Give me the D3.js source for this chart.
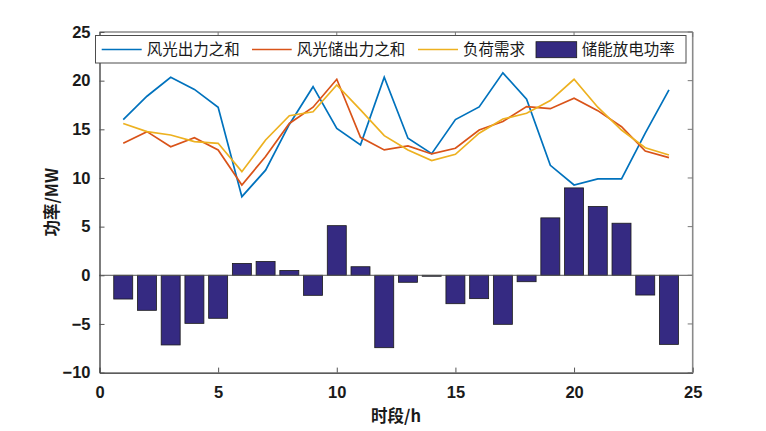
<!DOCTYPE html>
<html><head><meta charset="utf-8">
<script src="https://cdn.jsdelivr.net/npm/d3@7"></script>
<style>body{margin:0;background:#fff}svg{display:block}</style>
</head><body>
<script>
const hours = d3.range(1, 25);
const windSolar = [16.0,18.4,20.35,19.1,17.27,8.08,10.8,15.5,19.38,15.1,13.4,20.35,14.08,12.5,16.0,17.3,20.8,18.1,11.3,9.28,9.9,9.9,14.6,19.05];
const withStorage = [13.56,14.76,13.2,14.14,12.88,9.28,12.2,15.6,17.27,20.14,14.18,12.88,13.3,12.47,13.05,14.93,15.8,17.33,17.12,18.19,16.92,15.27,12.77,12.09];
const load = [15.6,14.76,14.42,13.73,13.56,10.65,13.9,16.4,16.8,19.56,17.0,14.35,12.88,11.78,12.43,14.6,16.06,16.65,17.95,20.14,17.27,14.93,13.11,12.36];
const storage = [-2.44,-3.6,-7.16,-4.94,-4.42,1.22,1.42,0.5,-2.06,5.1,0.88,-7.44,-0.72,-0.1,-2.92,-2.4,-5.04,-0.66,5.9,8.98,7.07,5.35,-2.03,-7.1];
const seriesNames = ["风光出力之和","风光储出力之和","负荷需求","储能放电功率"];
const xTicks = [0,5,10,15,20,25];
const yTicks = [-10,-5,0,5,10,15,20,25];

const W = 766, H = 431;
const L = 99.5, R = 692.7, T = 32, B = 372.6;
const colors = ["#0072BD","#D95319","#EDB120","#352a82"];

const svg = d3.select("body").append("svg").attr("width", W).attr("height", H);
const x = d3.scaleLinear().domain([0,25]).range([L,R]);
const y = d3.scaleLinear().domain([-10,25]).range([B,T]);
const tickFont = "'Liberation Sans', Arial, sans-serif";
const cjk = "'Noto Sans CJK SC', sans-serif";

// bars
const bw = x(0.8) - x(0);
svg.append("g").selectAll("rect").data(hours).join("rect")
  .attr("x", (d) => x(d) - bw/2)
  .attr("y", (d,i) => y(Math.max(0, storage[i])))
  .attr("width", bw)
  .attr("height", (d,i) => Math.abs(y(storage[i]) - y(0)))
  .attr("fill", colors[3]).attr("stroke", "#1a1a1a").attr("stroke-width", 0.8);

// baseline
svg.append("line").attr("x1", L).attr("x2", R).attr("y1", y(0)).attr("y2", y(0))
  .attr("stroke", "#555").attr("stroke-width", 1);

// lines
const lineGen = d3.line().x((d) => x(d[0])).y((d) => y(d[1]));
[windSolar, withStorage, load].forEach((s, k) => {
  svg.append("path").datum(hours.map((h,i) => [h, s[i]]))
    .attr("d", lineGen).attr("fill", "none").attr("stroke", colors[k])
    .attr("stroke-width", 1.7).attr("stroke-linejoin", "miter");
});

// box: top & right gray
svg.append("line").attr("x1", L).attr("x2", R).attr("y1", T).attr("y2", T).attr("stroke", "#8a8a8a").attr("stroke-width", 1.6);
svg.append("line").attr("x1", R).attr("x2", R).attr("y1", T).attr("y2", B).attr("stroke", "#8a8a8a").attr("stroke-width", 1.6);

// axes
const xAxis = svg.append("g").attr("transform", `translate(0,${B})`)
  .call(d3.axisBottom(x).tickValues(xTicks).tickSizeInner(-5).tickSizeOuter(0).tickPadding(14));
const yAxis = svg.append("g").attr("transform", `translate(${L},0)`)
  .call(d3.axisLeft(y).tickValues(yTicks).tickSizeInner(-5).tickSizeOuter(0).tickPadding(9));
[xAxis, yAxis].forEach(g => {
  g.select(".domain").attr("stroke", "#262626").attr("stroke-width", 1.2);
  g.selectAll(".tick line").attr("stroke", "#555");
  g.selectAll(".tick text").attr("font-family", tickFont).attr("font-weight", "bold")
    .attr("font-size", 16.5).attr("fill", "#1a1a1a");
});
// top & right ticks
svg.append("g").selectAll("line").data(xTicks).join("line")
  .attr("x1", d => x(d)).attr("x2", d => x(d)).attr("y1", T).attr("y2", T + 5).attr("stroke", "#777");
svg.append("g").selectAll("line").data(yTicks).join("line")
  .attr("x1", R).attr("x2", R - 5).attr("y1", d => y(d)).attr("y2", d => y(d)).attr("stroke", "#777");

// axis labels
svg.append("text").attr("x", (L+R)/2).attr("y", 422).attr("text-anchor", "middle")
  .attr("font-family", cjk).attr("font-weight", "bold").attr("font-size", 16.5).attr("fill", "#1a1a1a").text("时段/h");
svg.append("text").attr("transform", `translate(58,${(T+B)/2}) rotate(-90)`).attr("text-anchor", "middle")
  .attr("font-family", cjk).attr("font-weight", "bold").attr("font-size", 16.5).attr("fill", "#1a1a1a").text("功率/MW");

// legend
const lg = svg.append("g");
lg.append("rect").attr("x", 95.5).attr("y", 35.5).attr("width", 590.5).attr("height", 27.5)
  .attr("fill", "#fff").attr("stroke", "#4d4d4d").attr("stroke-width", 1);
const ly = 49.5;
const items = [
  {x1: 101.7, x2: 141.7, tx: 146.7},
  {x1: 252, x2: 291.7, tx: 296.7},
  {x1: 418, x2: 458, tx: 463},
  {x1: 536, x2: 576.7, tx: 581.7}
];
items.forEach((it, k) => {
  if (k < 3) {
    lg.append("line").attr("x1", it.x1).attr("x2", it.x2).attr("y1", ly).attr("y2", ly)
      .attr("stroke", colors[k]).attr("stroke-width", 1.7);
  } else {
    lg.append("rect").attr("x", it.x1).attr("y", 41.7).attr("width", it.x2 - it.x1).attr("height", 16)
      .attr("fill", colors[3]).attr("stroke", "#1a1a1a").attr("stroke-width", 0.8);
  }
  lg.append("text").attr("x", it.tx).attr("y", ly).attr("dy", "0.35em")
    .attr("font-family", cjk).attr("font-size", 15.5).attr("fill", "#1a1a1a").text(seriesNames[k]);
});
</script>
</body></html>
